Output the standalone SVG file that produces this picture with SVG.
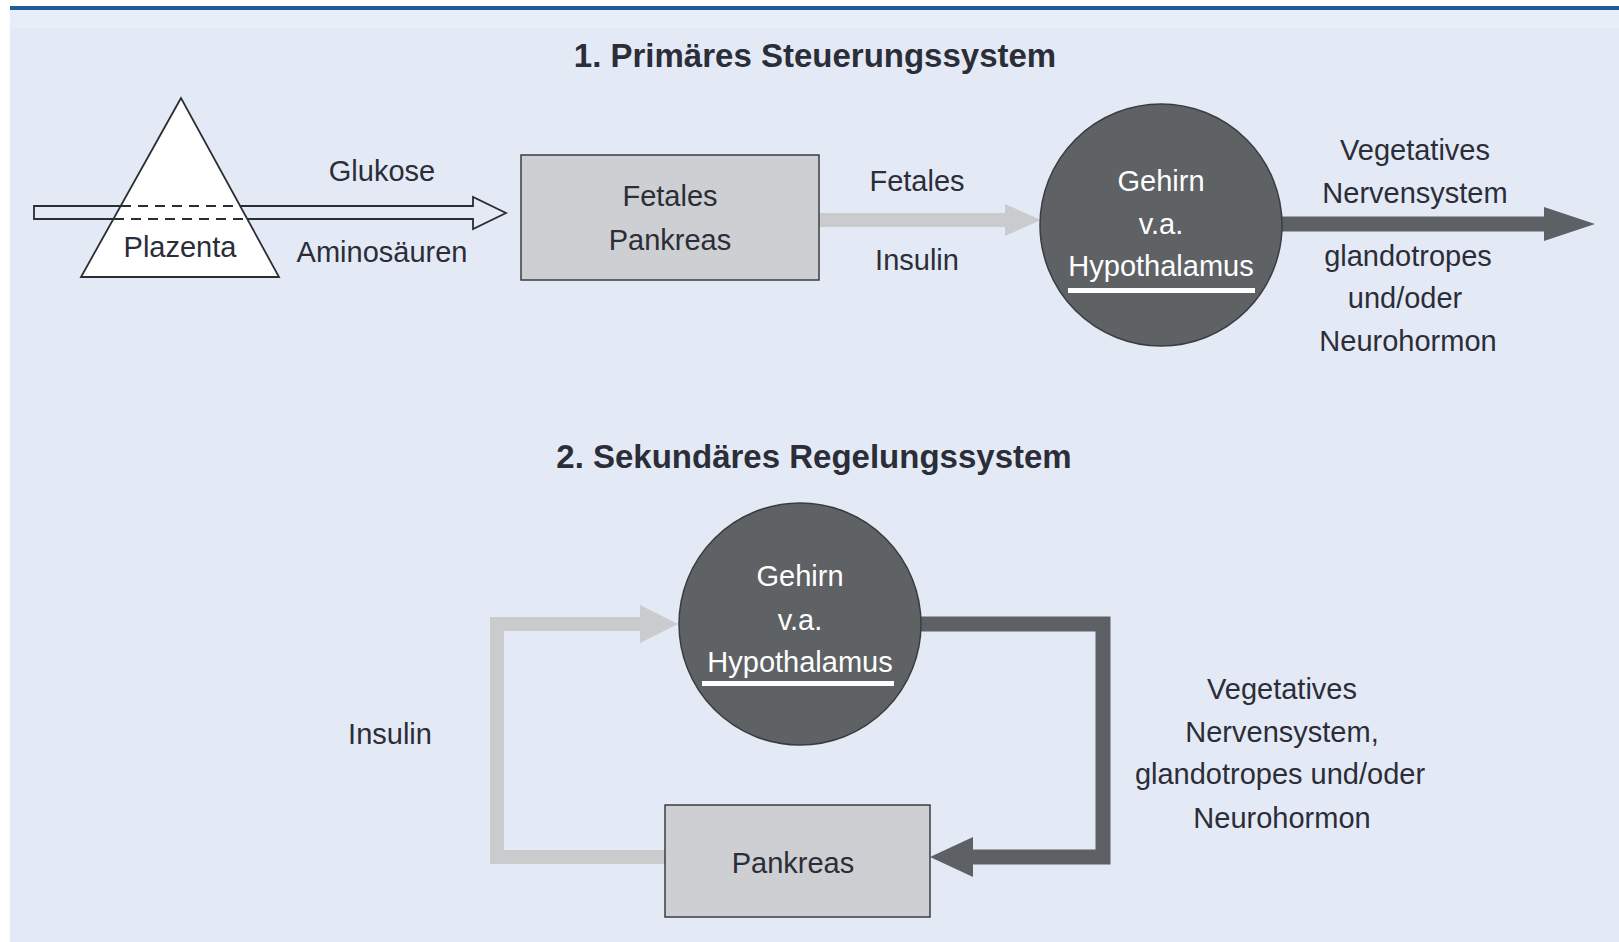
<svg xmlns="http://www.w3.org/2000/svg" width="1619" height="942" viewBox="0 0 1619 942">
<style>
.t{font-family:"Liberation Sans",Arial,sans-serif;font-size:29px;fill:#2b2d38;text-anchor:middle}
.w{font-family:"Liberation Sans",Arial,sans-serif;font-size:29px;fill:#ffffff;text-anchor:middle}
.h{font-family:"Liberation Sans",Arial,sans-serif;font-size:33px;font-weight:bold;fill:#2b2d38;text-anchor:middle}
.box{fill:#cdcfd2;stroke:#3a3c40;stroke-width:1.5}
.brain{fill:#5f6265;stroke:#3a3c40;stroke-width:1.5}
.light{fill:none;stroke:#c9cbcd;stroke-width:14}
.dark{fill:none;stroke:#5d6165;stroke-width:15}
</style>
<rect x="0" y="0" width="1619" height="942" fill="#ffffff"/>
<rect x="10" y="10" width="1609" height="932" fill="#e4eaf5"/>
<rect x="10" y="10" width="1609" height="18" fill="#e8eef8"/>
<rect x="10" y="6" width="1609" height="4" fill="#1f5c9a"/>

<text class="h" x="815" y="67">1. Primäres Steuerungssystem</text>
<text class="h" x="814" y="468">2. Sekundäres Regelungssystem</text>

<g id="plazenta">
<polygon points="181,98 81,277 279,277" fill="#ffffff" stroke="#2b2d33" stroke-width="1.8"/>
<text class="t" x="180" y="257">Plazenta</text>
</g>

<g id="connectors">
<path d="M121,206 H34 V219 H114" fill="none" stroke="#2b2d33" stroke-width="1.8"/>
<path d="M240,206 H473 V197 L506,213 L473,229 V219 H247" fill="none" stroke="#2b2d33" stroke-width="1.8"/>
<path d="M121,206 H240 M114,219 H247" fill="none" stroke="#2b2d33" stroke-width="1.8" stroke-dasharray="10,7"/>
<line class="light" x1="819" y1="220" x2="1010" y2="220"/>
<polygon points="1005,204 1041,220 1005,236" fill="#c9cbcd"/>
<line class="dark" x1="1282" y1="224" x2="1550" y2="224"/>
<polygon points="1544,207 1595,224 1544,241" fill="#5d6165"/>
<polyline class="light" points="665,857 497,857 497,624 645,624"/>
<polygon points="640,605 678,624 640,643" fill="#c9cbcd"/>
<polyline class="dark" points="921,624 1103,624 1103,857 968,857"/>
<polygon points="973,837 930,857 973,877" fill="#5d6165"/>
</g>

<g id="labels">
<text class="t" x="382" y="181">Glukose</text>
<text class="t" x="382" y="262">Aminosäuren</text>
<text class="t" x="917" y="191">Fetales</text>
<text class="t" x="917" y="270">Insulin</text>
<text class="t" x="1415" y="160">Vegetatives</text>
<text class="t" x="1415" y="203">Nervensystem</text>
<text class="t" x="1408" y="266">glandotropes</text>
<text class="t" x="1405" y="308">und/oder</text>
<text class="t" x="1408" y="351">Neurohormon</text>
<text class="t" x="390" y="744">Insulin</text>
<text class="t" x="1282" y="699">Vegetatives</text>
<text class="t" x="1282" y="742">Nervensystem,</text>
<text class="t" x="1280" y="784">glandotropes und/oder</text>
<text class="t" x="1282" y="828">Neurohormon</text>
</g>

<g id="fetales-pankreas">
<rect class="box" x="521" y="155" width="298" height="125"/>
<text class="t" x="670" y="206">Fetales</text>
<text class="t" x="670" y="250">Pankreas</text>
</g>

<g id="gehirn-1">
<ellipse class="brain" cx="1161" cy="225" rx="121" ry="121"/>
<text class="w" x="1161" y="191">Gehirn</text>
<text class="w" x="1161" y="234">v.a.</text>
<text class="w" x="1161" y="276">Hypothalamus</text>
<rect x="1068" y="288" width="187" height="5" fill="#ffffff"/>
</g>

<g id="gehirn-2">
<ellipse class="brain" cx="800" cy="624" rx="121" ry="121"/>
<text class="w" x="800" y="586">Gehirn</text>
<text class="w" x="800" y="630">v.a.</text>
<text class="w" x="800" y="672">Hypothalamus</text>
<rect x="702" y="681" width="192" height="5" fill="#ffffff"/>
</g>

<g id="pankreas">
<rect class="box" x="665" y="805" width="265" height="112"/>
<text class="t" x="793" y="873">Pankreas</text>
</g>
</svg>
